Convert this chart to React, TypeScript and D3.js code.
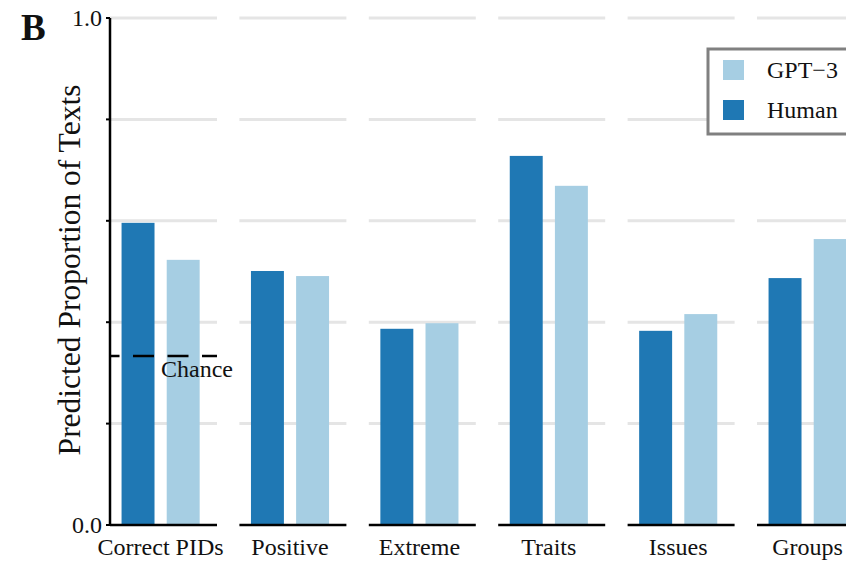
import React from "react";
import * as d3 from "d3";

// Predicted proportion of texts by attribute, Human vs GPT-3
const categories = ["Correct PIDs", "Positive", "Extreme", "Traits", "Issues", "Groups"];
const humanValues = [0.596, 0.501, 0.387, 0.728, 0.383, 0.487];
const gptValues = [0.523, 0.491, 0.398, 0.669, 0.416, 0.564];
const seriesNames = ["Human", "GPT-3"];
const legendLabels = ["GPT\u22123", "Human"];
const yTicks = [0, 0.2, 0.4, 0.6, 0.8, 1.0];
const yTickLabels = ["0.0", "", "", "", "", "1.0"];
const chanceLevel = 1 / 3;

const W = 846;
const H = 562;
const serif: React.CSSProperties = { fontFamily: "Liberation Serif" };
const colors: Record<string, string> = { Human: "#1f78b4", "GPT-3": "#a6cee3" };

export default function App() {
  const y = d3.scaleLinear().domain([0, 1]).range([525, 18]);
  const panelStart = 110;
  const panelStep = 129.4;
  const panelWidth = 107;
  const panelX = (i: number) => panelStart + i * panelStep;
  const inner = d3
    .scaleBand<string>()
    .domain(seriesNames)
    .range([0, panelWidth])
    .paddingInner(0.27)
    .paddingOuter(0.32)
    .align(0.4);

  const data = categories.map((c, i) => ({
    category: c,
    values: { Human: humanValues[i], "GPT-3": gptValues[i] } as Record<string, number>,
  }));

  return (
    <svg
      width={W}
      height={H}
      style={{ position: "absolute", left: 0, top: 0, background: "#fff" }}
    >
      <rect x={0} y={0} width={W} height={H} fill="#fff" />
      {data.map((d, i) => {
        const x0 = panelX(i);
        const bx0 = x0 + (inner("Human") ?? 0);
        const bx1 = x0 + (inner("GPT-3") ?? 0) + inner.bandwidth();
        return (
          <g key={d.category}>
            {yTicks.slice(1).map((t) => (
              <line
                key={t}
                x1={x0}
                x2={x0 + panelWidth}
                y1={y(t)}
                y2={y(t)}
                stroke="#e5e5e5"
                strokeWidth={3}
              />
            ))}
            {seriesNames.map((s) => (
              <rect
                key={s}
                x={x0 + (inner(s) ?? 0)}
                y={y(d.values[s])}
                width={inner.bandwidth()}
                height={y(0) - y(d.values[s])}
                fill={colors[s]}
              />
            ))}
            <line x1={x0} x2={x0 + panelWidth} y1={y(0)} y2={y(0)} stroke="#000" strokeWidth={2.5} />
            <text
              x={(bx0 + bx1) / 2}
              y={555}
              textAnchor="middle"
              fontSize={24}
              fill="#111"
              style={serif}
            >
              {d.category}
            </text>
          </g>
        );
      })}

      {/* Chance reference in the first panel */}
      <line
        x1={panelX(0)}
        x2={panelX(0) + panelWidth}
        y1={y(chanceLevel)}
        y2={y(chanceLevel)}
        stroke="#000"
        strokeWidth={2.5}
        strokeDasharray="21,13.5"
        strokeDashoffset={11.5}
      />
      <text x={161} y={377} fontSize={24} fill="#111" style={serif}>
        Chance
      </text>

      {/* Y axis */}
      <line x1={panelStart} x2={panelStart} y1={y(1)} y2={y(0)} stroke="#000" strokeWidth={2.5} />
      {yTicks.map((t, i) => (
        <g key={t}>
          <line x1={panelStart - 4} x2={panelStart} y1={y(t)} y2={y(t)} stroke="#000" strokeWidth={2} />
          {yTickLabels[i] && (
            <text x={102} y={y(t)} dy="0.35em" textAnchor="end" fontSize={24} fill="#111" style={serif}>
              {yTickLabels[i]}
            </text>
          )}
        </g>
      ))}
      <text
        transform={`translate(80, 270) rotate(-90)`}
        textAnchor="middle"
        fontSize={31.5}
        fill="#111"
        style={serif}
      >
        Predicted Proportion of Texts
      </text>
      <text x={21} y={40} fontSize={37} fontWeight="bold" fill="#111" style={serif}>
        B
      </text>

      {/* Legend */}
      <g>
        <rect x={708} y={49} width={160} height={85} fill="#fff" stroke="#808080" strokeWidth={3} />
        {legendLabels.map((lab, i) => {
          const key = i === 0 ? "GPT-3" : "Human";
          return (
            <g key={lab}>
              <rect x={723} y={60 + i * 40} width={21} height={20} fill={colors[key]} />
              <text x={767} y={70 + i * 40} dy="0.35em" fontSize={24} fill="#111" style={serif}>
                {lab}
              </text>
            </g>
          );
        })}
      </g>
    </svg>
  );
}
